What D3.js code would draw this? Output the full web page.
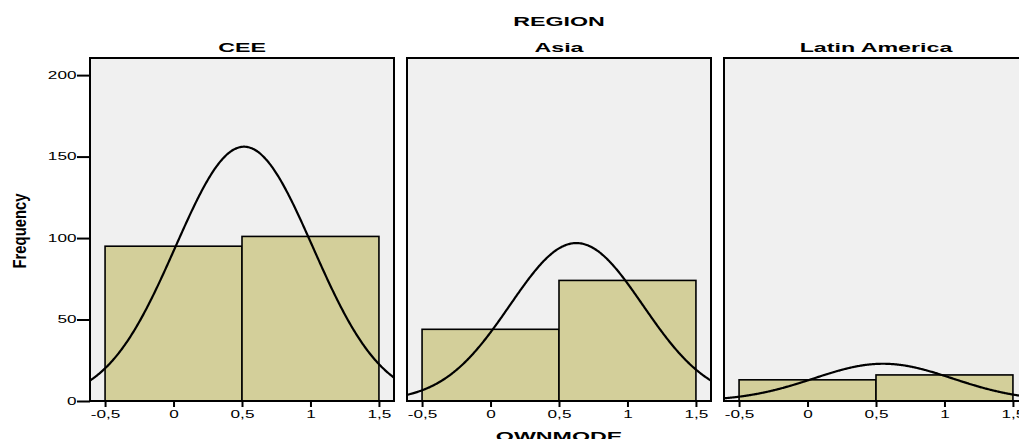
<!DOCTYPE html>
<html>
<head>
<meta charset="utf-8">
<script src="https://cdn.jsdelivr.net/npm/d3@7"></script>
<style>
  html, body { margin: 0; padding: 0; background: #ffffff; }
  svg { display: block; }
  text { font-family: "Liberation Sans", Arial, sans-serif; fill: #000; }
</style>
</head>
<body>
<svg id="chart" width="1019" height="439"></svg>
<script>
// Histogram counts of OWNMODE per region (bins [-0.5,0.5) and [0.5,1.5])
const regions = ["CEE", "Asia", "Latin America"];
const binEdges = [-0.5, 0.5, 1.5];
const countsCEE = [95, 101];
const countsAsia = [44, 74];
const countsLatin = [13, 16];
const seriesCounts = [countsCEE, countsAsia, countsLatin];

const xTicks = [-0.5, 0, 0.5, 1, 1.5];
const xTickLabels = ["-0,5", "0", "0,5", "1", "1,5"];
const yTicks = [0, 50, 100, 150, 200];
const yTickLabels = ["0", "50", "100", "150", "200"];

const svg = d3.select("#chart");
const SX = 1.72;            // horizontal stretch of all lettering
const panelW = 304, panelGap = 13, firstLeft = 90;
const plotTop = 58, plotBottom = 401;
const barFill = "#d3cf9a", plotBg = "#f0f0f0";

const y = d3.scaleLinear().domain([0, 210.5]).range([plotBottom, plotTop]);

function stretchedText(x, yPos, str, size, weight, anchor) {
  svg.append("g").attr("transform", `translate(${x},${yPos})`)
    .append("text")
    .attr("transform", `scale(${SX},1)`)
    .attr("text-anchor", anchor || "middle")
    .style("font-size", size + "px")
    .style("font-weight", weight || "normal")
    .text(str);
}

// Fitted normal curve from the binned counts (bin width 1, values 0/1)
function normalFit(counts) {
  const n = d3.sum(counts);
  const mids = [0, 1];
  const mean = d3.sum(counts, (c, i) => c * mids[i]) / n;
  const ss = d3.sum(counts, (c, i) => c * (mids[i] - mean) ** 2);
  const sd = Math.sqrt(ss / (n - 1));
  return { n, mean, sd };
}

const defs = svg.append("defs");

regions.forEach((name, pi) => {
  const left = firstLeft + pi * (panelW + panelGap);
  const x = d3.scaleLinear().domain([-0.61, 1.61]).range([left, left + panelW]);
  const counts = seriesCounts[pi];

  const clipId = "clip" + pi;
  defs.append("clipPath").attr("id", clipId)
    .append("rect").attr("x", left).attr("y", plotTop)
    .attr("width", panelW).attr("height", plotBottom - plotTop);

  svg.append("rect")
    .attr("x", left).attr("y", plotTop)
    .attr("width", panelW).attr("height", plotBottom - plotTop)
    .attr("fill", plotBg);

  const g = svg.append("g").attr("clip-path", `url(#${clipId})`);

  g.selectAll("rect.bar")
    .data(counts)
    .join("rect")
    .attr("class", "bar")
    .attr("x", (d, i) => x(binEdges[i]))
    .attr("width", (d, i) => x(binEdges[i + 1]) - x(binEdges[i]))
    .attr("y", d => y(d))
    .attr("height", d => y(0) - y(d))
    .attr("fill", barFill)
    .attr("stroke", "#000")
    .attr("stroke-width", 1.6);

  const fit = normalFit(counts);
  const xs = d3.range(0, 401).map(i => -0.7 + i * (2.4 / 400));
  const curve = d3.line()
    .x(v => x(v))
    .y(v => y(fit.n / (fit.sd * Math.sqrt(2 * Math.PI)) *
                Math.exp(-0.5 * ((v - fit.mean) / fit.sd) ** 2)))
    .curve(d3.curveBasis);
  g.append("path")
    .attr("d", curve(xs))
    .attr("fill", "none")
    .attr("stroke", "#000")
    .attr("stroke-width", 2.2);

  // Frame
  svg.append("rect")
    .attr("x", left).attr("y", plotTop)
    .attr("width", panelW).attr("height", plotBottom - plotTop)
    .attr("fill", "none")
    .attr("stroke", "#000")
    .attr("stroke-width", 2);

  // Bottom axis
  const xAxis = svg.append("g")
    .attr("transform", `translate(0,${plotBottom})`)
    .call(d3.axisBottom(x).tickValues(xTicks)
      .tickFormat((d, i) => xTickLabels[i]).tickSize(6).tickPadding(4));
  xAxis.select(".domain").remove();
  xAxis.selectAll("line").attr("stroke", "#000").attr("stroke-width", 2);
  xAxis.selectAll("text")
    .attr("transform", `scale(${SX},1)`)
    .style("font-size", "10px")
    .style("font-family", "'Liberation Sans', Arial, sans-serif")
    .attr("fill", "#000");

  // Panel title
  stretchedText(left + panelW / 2, 52, name, 13.5, "bold");

  if (pi === 0) {
    const yAxis = svg.append("g")
      .attr("transform", `translate(${left},0)`)
      .call(d3.axisLeft(y).tickValues(yTicks)
        .tickFormat((d, i) => yTickLabels[i]).tickSize(13).tickPadding(0));
    yAxis.select(".domain").remove();
    yAxis.selectAll("line").attr("stroke", "#000").attr("stroke-width", 2);
    yAxis.selectAll("text")
      .attr("x", -13.5 / SX)
      .attr("transform", `scale(${SX},1)`)
      .style("font-size", "10px")
      .style("font-family", "'Liberation Sans', Arial, sans-serif")
      .attr("fill", "#000");
  }
});

// Overall titles
stretchedText(559, 26, "REGION", 13.5, "bold");
stretchedText(559, 441, "OWNMODE", 13.5, "bold");

svg.append("text")
  .attr("transform", "translate(26,231) rotate(-90)")
  .attr("text-anchor", "middle")
  .style("font-size", "18px")
  .style("font-weight", "bold")
  .attr("textLength", 75)
  .attr("lengthAdjust", "spacingAndGlyphs")
  .text("Frequency");
</script>
</body>
</html>
